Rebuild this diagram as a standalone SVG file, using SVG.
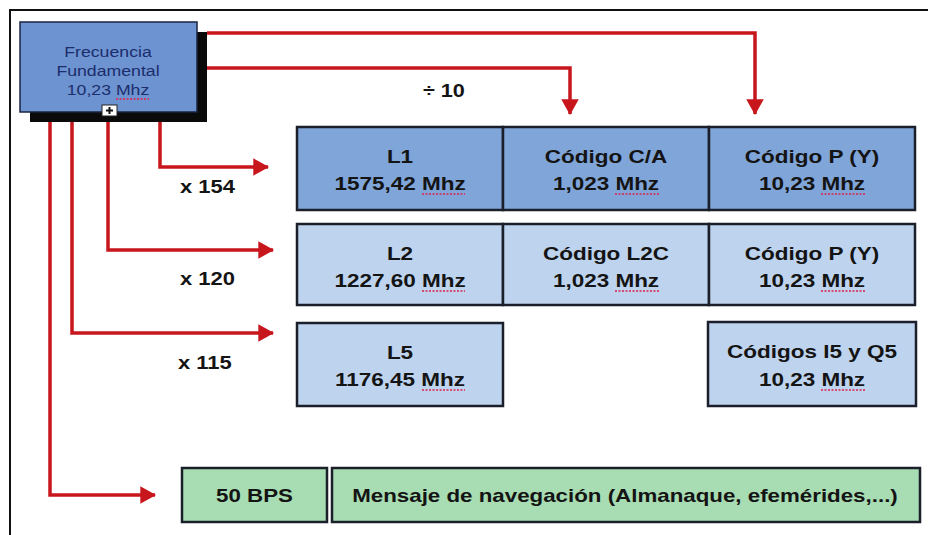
<svg xmlns="http://www.w3.org/2000/svg" width="928" height="535" viewBox="0 0 928 535">
<style>
.bg{fill:#ffffff}
.frame{stroke:#111;stroke-width:2;fill:none}
.box{stroke:#1b1f2a;stroke-width:2.5}
.b1{fill:#7fa5d9}
.b2{fill:#bed3ee}
.g{fill:#a8dcb2}
.t{font-family:"Liberation Sans",Arial,sans-serif;font-size:18px;font-weight:bold;fill:#141414;text-anchor:middle}
.lbl{font-family:"Liberation Sans",Arial,sans-serif;font-size:18px;font-weight:bold;fill:#141414}
.ft{font-family:"Liberation Sans",Arial,sans-serif;font-size:15px;fill:#1c2d6b;text-anchor:middle}
.wire{stroke:#c8161d;stroke-width:3.5;fill:none;stroke-linejoin:miter}
.sq{stroke:#e0204a;stroke-width:1.5;stroke-dasharray:2 1.5;fill:none}
</style>
<defs>
<marker id="ah" markerWidth="5" markerHeight="5" refX="4.2" refY="2.5" orient="auto" markerUnits="strokeWidth">
<path d="M0,0 L4.5,2.5 L0,5 z" fill="#c8161d"/>
</marker>
</defs>
<rect class="bg" x="0" y="0" width="928" height="535"/>
<path class="frame" d="M10,535 V10 H928"/>

<g id="connectors">
<path class="wire" d="M207,33 H755 V114" marker-end="url(#ah)"/>
<path class="wire" d="M207,68 H570 V114" marker-end="url(#ah)"/>
<path class="wire" d="M160,122 V167 H268" marker-end="url(#ah)"/>
<path class="wire" d="M108,122 V250 H273" marker-end="url(#ah)"/>
<path class="wire" d="M72,122 V333 H273" marker-end="url(#ah)"/>
<path class="wire" d="M50,122 V495 H155" marker-end="url(#ah)"/>
<text class="lbl" transform="translate(423 97) scale(1.2 1)">÷ 10</text>
<text class="lbl" transform="translate(180 193) scale(1.22 1)">x 154</text>
<text class="lbl" transform="translate(180 285) scale(1.22 1)">x 120</text>
<text class="lbl" transform="translate(178 369) scale(1.22 1)">x 115</text>
</g>

<g id="fundamental">
<rect x="30" y="32" width="177" height="90" fill="#0a0a0a"/>
<rect x="20" y="22" width="177" height="90" fill="#6d93d1" stroke="#1b2440" stroke-width="1.5"/>
<text class="ft" transform="translate(108 57) scale(1.18 1)">Frecuencia</text>
<text class="ft" transform="translate(108 76) scale(1.18 1)">Fundamental</text>
<text class="ft" transform="translate(108 95) scale(1.18 1)">10,23 Mhz</text>
<line class="sq" x1="116" y1="99" x2="149" y2="99"/>
<rect x="102" y="105" width="15" height="11" fill="#fff" stroke="#222" stroke-width="1"/>
<path d="M109.5,107 V114 M106,110.5 H113" stroke="#111" stroke-width="2"/>
</g>

<g id="l1">
<rect class="box b1" x="297" y="127" width="206" height="83"/>
<text class="t" transform="translate(400 163) scale(1.25 1)">L1</text>
<text class="t" transform="translate(400 190) scale(1.25 1)">1575,42 Mhz</text>
<line class="sq" x1="422" y1="194" x2="465" y2="194"/>
</g>
<g id="codigo-ca">
<rect class="box b1" x="503" y="127" width="206" height="83"/>
<text class="t" transform="translate(606 163) scale(1.25 1)">Código C/A</text>
<text class="t" transform="translate(606 190) scale(1.25 1)">1,023 Mhz</text>
<line class="sq" x1="615" y1="194" x2="659" y2="194"/>
</g>
<g id="codigo-py-1">
<rect class="box b1" x="709" y="127" width="206" height="83"/>
<text class="t" transform="translate(812 163) scale(1.25 1)">Código P (Y)</text>
<text class="t" transform="translate(812 190) scale(1.25 1)">10,23 Mhz</text>
<line class="sq" x1="821" y1="194" x2="865" y2="194"/>
</g>

<g id="l2">
<rect class="box b2" x="297" y="224" width="206" height="81"/>
<text class="t" transform="translate(400 260) scale(1.25 1)">L2</text>
<text class="t" transform="translate(400 287) scale(1.25 1)">1227,60 Mhz</text>
<line class="sq" x1="422" y1="291" x2="465" y2="291"/>
</g>
<g id="codigo-l2c">
<rect class="box b2" x="503" y="224" width="206" height="81"/>
<text class="t" transform="translate(606 260) scale(1.25 1)">Código L2C</text>
<text class="t" transform="translate(606 287) scale(1.25 1)">1,023 Mhz</text>
<line class="sq" x1="615" y1="291" x2="659" y2="291"/>
</g>
<g id="codigo-py-2">
<rect class="box b2" x="709" y="224" width="206" height="81"/>
<text class="t" transform="translate(812 260) scale(1.25 1)">Código P (Y)</text>
<text class="t" transform="translate(812 287) scale(1.25 1)">10,23 Mhz</text>
<line class="sq" x1="821" y1="291" x2="865" y2="291"/>
</g>

<g id="l5">
<rect class="box b2" x="297" y="323" width="206" height="83"/>
<text class="t" transform="translate(400 359) scale(1.25 1)">L5</text>
<text class="t" transform="translate(400 386) scale(1.25 1)">1176,45 Mhz</text>
<line class="sq" x1="422" y1="390" x2="465" y2="390"/>
</g>
<g id="codigos-i5-q5">
<rect class="box b2" x="708" y="322" width="208" height="84"/>
<text class="t" transform="translate(812 358) scale(1.25 1)">Códigos I5 y Q5</text>
<text class="t" transform="translate(812 386) scale(1.25 1)">10,23 Mhz</text>
<line class="sq" x1="821" y1="390" x2="865" y2="390"/>
</g>

<g id="bps">
<rect class="box g" x="182" y="468" width="145" height="54"/>
<text class="t" transform="translate(254.5 502) scale(1.24 1)">50 BPS</text>
</g>
<g id="mensaje">
<rect class="box g" x="332" y="468" width="588" height="54"/>
<text class="t" transform="translate(625 502) scale(1.24 1)">Mensaje de navegación (Almanaque, efemérides,...)</text>
</g>
</svg>
